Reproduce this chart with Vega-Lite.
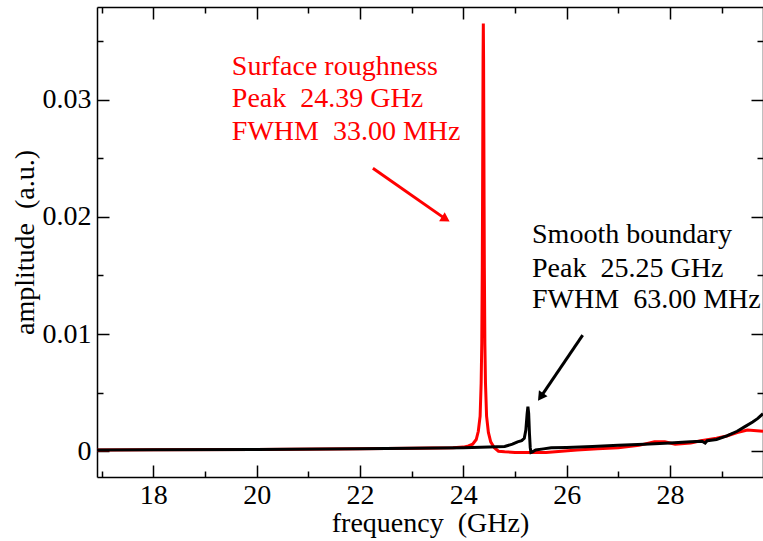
{
  "$schema": "https://vega.github.io/schema/vega-lite/v6.json",
  "width": 666,
  "height": 470,
  "autosize": "none",
  "padding": {"left": 97, "top": 7, "right": 0, "bottom": 64},
  "background": "white",
  "config": {
    "view": {"stroke": null},
    "font": "Liberation Serif",
    "axis": {
      "grid": false,
      "domainColor": "black",
      "domainWidth": 1.5,
      "tickColor": "black",
      "tickWidth": 1.5,
      "labelFont": "Liberation Serif",
      "labelFontSize": 28,
      "labelColor": "black",
      "titleFont": "Liberation Serif",
      "titleFontSize": 28,
      "titleFontWeight": "normal",
      "titleColor": "black"
    }
  },
  "datasets": {
    "curves": [
      {"f": 16.9, "a": 0.0001, "s": "rough"},
      {"f": 18, "a": 0.00012, "s": "rough"},
      {"f": 20, "a": 0.00015, "s": "rough"},
      {"f": 22, "a": 0.0002, "s": "rough"},
      {"f": 23, "a": 0.00025, "s": "rough"},
      {"f": 23.8, "a": 0.0003, "s": "rough"},
      {"f": 24.0, "a": 0.00035, "s": "rough"},
      {"f": 24.1, "a": 0.00045, "s": "rough"},
      {"f": 24.18, "a": 0.0006, "s": "rough"},
      {"f": 24.25, "a": 0.001, "s": "rough"},
      {"f": 24.29, "a": 0.0017, "s": "rough"},
      {"f": 24.325, "a": 0.003, "s": "rough"},
      {"f": 24.345, "a": 0.0058, "s": "rough"},
      {"f": 24.357, "a": 0.0092, "s": "rough"},
      {"f": 24.367, "a": 0.0157, "s": "rough"},
      {"f": 24.372, "a": 0.0209, "s": "rough"},
      {"f": 24.377, "a": 0.0273, "s": "rough"},
      {"f": 24.382, "a": 0.0335, "s": "rough"},
      {"f": 24.387, "a": 0.0365, "s": "rough"},
      {"f": 24.392, "a": 0.0335, "s": "rough"},
      {"f": 24.397, "a": 0.0273, "s": "rough"},
      {"f": 24.402, "a": 0.0209, "s": "rough"},
      {"f": 24.407, "a": 0.0157, "s": "rough"},
      {"f": 24.417, "a": 0.0092, "s": "rough"},
      {"f": 24.429, "a": 0.0058, "s": "rough"},
      {"f": 24.45, "a": 0.003, "s": "rough"},
      {"f": 24.485, "a": 0.0016, "s": "rough"},
      {"f": 24.53, "a": 0.0008, "s": "rough"},
      {"f": 24.6, "a": 0.0003, "s": "rough"},
      {"f": 24.68, "a": 0.0, "s": "rough"},
      {"f": 24.8, "a": -0.00005, "s": "rough"},
      {"f": 25.0, "a": -0.0001, "s": "rough"},
      {"f": 25.3, "a": -0.00012, "s": "rough"},
      {"f": 25.6, "a": -0.0001, "s": "rough"},
      {"f": 25.9, "a": 0.0, "s": "rough"},
      {"f": 26.2, "a": 0.0001, "s": "rough"},
      {"f": 26.6, "a": 0.0002, "s": "rough"},
      {"f": 27.0, "a": 0.0003, "s": "rough"},
      {"f": 27.4, "a": 0.0005, "s": "rough"},
      {"f": 27.7, "a": 0.0008, "s": "rough"},
      {"f": 27.9, "a": 0.0008, "s": "rough"},
      {"f": 28.1, "a": 0.0006, "s": "rough"},
      {"f": 28.4, "a": 0.0007, "s": "rough"},
      {"f": 28.6, "a": 0.0009, "s": "rough"},
      {"f": 28.9, "a": 0.0011, "s": "rough"},
      {"f": 29.1, "a": 0.0013, "s": "rough"},
      {"f": 29.3, "a": 0.0016, "s": "rough"},
      {"f": 29.5, "a": 0.0018, "s": "rough"},
      {"f": 29.8, "a": 0.0017, "s": "rough"},
      {"f": 16.9, "a": 0.0001, "s": "smooth"},
      {"f": 18, "a": 0.00012, "s": "smooth"},
      {"f": 20, "a": 0.00015, "s": "smooth"},
      {"f": 22, "a": 0.0002, "s": "smooth"},
      {"f": 23, "a": 0.00025, "s": "smooth"},
      {"f": 24, "a": 0.0003, "s": "smooth"},
      {"f": 24.5, "a": 0.00035, "s": "smooth"},
      {"f": 24.8, "a": 0.0004, "s": "smooth"},
      {"f": 24.95, "a": 0.0006, "s": "smooth"},
      {"f": 25.05, "a": 0.0008, "s": "smooth"},
      {"f": 25.13, "a": 0.0009, "s": "smooth"},
      {"f": 25.18, "a": 0.0011, "s": "smooth"},
      {"f": 25.21, "a": 0.0018, "s": "smooth"},
      {"f": 25.235, "a": 0.0032, "s": "smooth"},
      {"f": 25.25, "a": 0.0038, "s": "smooth"},
      {"f": 25.265, "a": 0.0032, "s": "smooth"},
      {"f": 25.28, "a": 0.0015, "s": "smooth"},
      {"f": 25.295, "a": 0.0003, "s": "smooth"},
      {"f": 25.31, "a": -0.0001, "s": "smooth"},
      {"f": 25.34, "a": -0.00005, "s": "smooth"},
      {"f": 25.4, "a": 0.0001, "s": "smooth"},
      {"f": 25.55, "a": 0.0002, "s": "smooth"},
      {"f": 25.7, "a": 0.0003, "s": "smooth"},
      {"f": 26.0, "a": 0.00032, "s": "smooth"},
      {"f": 26.5, "a": 0.0004, "s": "smooth"},
      {"f": 27.0, "a": 0.0005, "s": "smooth"},
      {"f": 27.5, "a": 0.0006, "s": "smooth"},
      {"f": 28.0, "a": 0.0007, "s": "smooth"},
      {"f": 28.4, "a": 0.0008, "s": "smooth"},
      {"f": 28.62, "a": 0.00085, "s": "smooth"},
      {"f": 28.68, "a": 0.0007, "s": "smooth"},
      {"f": 28.72, "a": 0.0009, "s": "smooth"},
      {"f": 28.9, "a": 0.001, "s": "smooth"},
      {"f": 29.1, "a": 0.0013, "s": "smooth"},
      {"f": 29.3, "a": 0.0017, "s": "smooth"},
      {"f": 29.45, "a": 0.0021, "s": "smooth"},
      {"f": 29.6, "a": 0.0025, "s": "smooth"},
      {"f": 29.7, "a": 0.0028, "s": "smooth"},
      {"f": 29.8, "a": 0.0032, "s": "smooth"}
    ],
    "notes": [
      {"f": 19.52, "a": 0.03208, "t": "Surface roughness", "s": "rough"},
      {"f": 19.52, "a": 0.02935, "t": "Peak\u00a0 24.39 GHz", "s": "rough"},
      {"f": 19.52, "a": 0.02654, "t": "FWHM\u00a0 33.00 MHz", "s": "rough"},
      {"f": 25.33, "a": 0.01775, "t": "Smooth boundary", "s": "smooth"},
      {"f": 25.33, "a": 0.01485, "t": "Peak\u00a0 25.25 GHz", "s": "smooth"},
      {"f": 25.33, "a": 0.0122, "t": "FWHM\u00a0 63.00 MHz", "s": "smooth"}
    ],
    "arrows": [
      {"f": 22.25, "a": 0.02415, "f2": 23.66, "a2": 0.0198, "ang": 122, "s": "rough"},
      {"f": 26.31, "a": 0.0099, "f2": 25.496, "a2": 0.00462, "ang": 215, "s": "smooth"}
    ]
  },
  "resolve": {"axis": {"x": "independent", "y": "independent"}},
  "layer": [
    {
      "data": {"name": "curves"},
      "transform": [{"filter": "datum.s === 'rough'"}],
      "mark": {"type": "line", "color": "#ff0000", "strokeWidth": 3, "clip": true},
      "encoding": {
        "x": {
          "field": "f", "type": "quantitative",
          "scale": {"domain": [16.91, 29.8], "nice": false, "zero": false},
          "axis": {
            "orient": "bottom",
            "values": [18, 20, 22, 24, 26, 28],
            "ticks": false,
            "tickSize": 0,
            "format": "d",
            "labelPadding": 4,
            "title": "frequency\u00a0 (GHz)",
            "titlePadding": 0
          }
        },
        "y": {
          "field": "a", "type": "quantitative",
          "scale": {"domain": [-0.0022, 0.0379], "nice": false, "zero": false},
          "axis": {
            "orient": "left",
            "values": [0, 0.01, 0.02, 0.03],
            "ticks": false,
            "tickSize": 0,
            "labelExpr": "datum.value === 0 ? '0' : format(datum.value, '.2f')",
            "labelPadding": 6,
            "title": "amplitude\u00a0 (a.u.)",
            "titlePadding": 3
          }
        }
      }
    },
    {
      "data": {"name": "curves"},
      "transform": [{"filter": "datum.s === 'smooth'"}],
      "mark": {"type": "line", "color": "#000000", "strokeWidth": 3, "clip": true},
      "encoding": {
        "x": {
          "field": "f", "type": "quantitative",
          "axis": {
            "orient": "top",
            "offset": -470,
            "domain": false,
            "values": [17, 18, 19, 20, 21, 22, 23, 24, 25, 26, 27, 28, 29],
            "tickSize": {"condition": {"test": "datum.value % 2 === 0", "value": 12}, "value": 6},
            "labels": false,
            "title": null
          }
        },
        "y": {
          "field": "a", "type": "quantitative",
          "axis": {
            "orient": "right",
            "offset": -666,
            "domain": false,
            "values": [0, 0.005, 0.01, 0.015, 0.02, 0.025, 0.03, 0.035],
            "tickSize": {"condition": {"test": "round(datum.value * 1000) % 10 === 0", "value": 12}, "value": 6},
            "labels": false,
            "title": null
          }
        }
      }
    },
    {
      "data": {"name": "notes"},
      "mark": {"type": "text", "align": "left", "baseline": "alphabetic", "fontSize": 28, "font": "Liberation Serif"},
      "encoding": {
        "x": {
          "field": "f", "type": "quantitative",
          "axis": {
            "orient": "bottom",
            "offset": -470,
            "domain": true,
            "values": [17, 18, 19, 20, 21, 22, 23, 24, 25, 26, 27, 28, 29],
            "tickSize": {"condition": {"test": "datum.value % 2 === 0", "value": 12}, "value": 6},
            "labels": false,
            "title": null
          }
        },
        "y": {
          "field": "a", "type": "quantitative",
          "axis": {
            "orient": "left",
            "offset": -666,
            "domain": true,
            "values": [0, 0.005, 0.01, 0.015, 0.02, 0.025, 0.03, 0.035],
            "tickSize": {"condition": {"test": "round(datum.value * 1000) % 10 === 0", "value": 12}, "value": 6},
            "labels": false,
            "title": null
          }
        },
        "text": {"field": "t"},
        "color": {"field": "s", "type": "nominal", "scale": {"domain": ["rough", "smooth"], "range": ["#ff0000", "#000000"]}, "legend": null}
      }
    },
    {
      "data": {"name": "arrows"},
      "mark": {"type": "rule", "strokeWidth": 3},
      "encoding": {
        "x": {"field": "f", "type": "quantitative", "axis": null},
        "y": {"field": "a", "type": "quantitative", "axis": null},
        "x2": {"field": "f2"},
        "y2": {"field": "a2"},
        "color": {"field": "s", "type": "nominal", "scale": {"domain": ["rough", "smooth"], "range": ["#ff0000", "#000000"]}, "legend": null}
      }
    },
    {
      "data": {"name": "arrows"},
      "mark": {"type": "point", "shape": "triangle-up", "filled": true, "size": 110, "opacity": 1},
      "encoding": {
        "x": {"field": "f2", "type": "quantitative", "axis": null},
        "y": {"field": "a2", "type": "quantitative", "axis": null},
        "angle": {"field": "ang", "type": "quantitative", "scale": null},
        "color": {"field": "s", "type": "nominal", "scale": {"domain": ["rough", "smooth"], "range": ["#ff0000", "#000000"]}, "legend": null}
      }
    }
  ]
}
